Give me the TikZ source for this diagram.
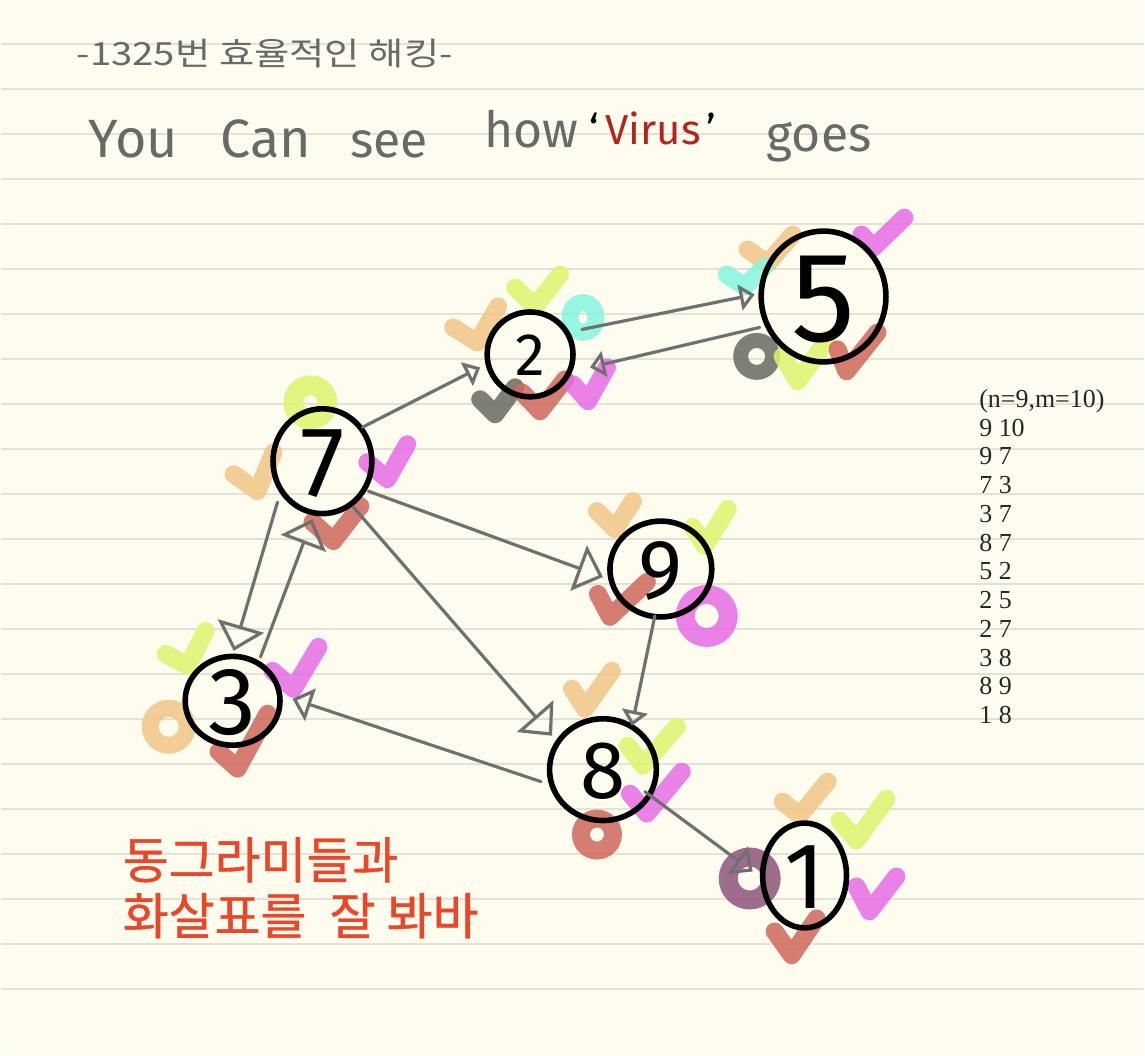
\documentclass[tikz,border=0pt]{standalone}
\usepackage{fontspec}
\usepackage{graphicx}
\usetikzlibrary{arrows.meta,shapes.geometric,calc}
\newfontfamily\kr{Noto Sans CJK KR}
\newfontfamily\krbold{Noto Sans CJK KR}[FakeBold=0.8]
\newfontfamily\hand{Fira Sans}
\newfontfamily\serifnum{Liberation Serif}
\newfontfamily\digitfont{Fira Sans}
\definecolor{paper}{RGB}{254,252,238}
\definecolor{rulec}{RGB}{228,226,214}
\definecolor{ink}{RGB}{105,105,105}
\definecolor{virusred}{RGB}{180,36,30}
\definecolor{notered}{RGB}{232,72,42}
\definecolor{arrgray}{RGB}{112,112,112}
\definecolor{mOr}{RGB}{241,197,134}
\definecolor{mLi}{RGB}{219,246,109}
\definecolor{mCy}{RGB}{132,246,223}
\definecolor{mMa}{RGB}{230,108,229}
\definecolor{mRe}{RGB}{208,103,93}
\definecolor{mGr}{RGB}{106,106,99}
\definecolor{mPu}{RGB}{143,85,123}
\pgfdeclarelayer{bg}
\pgfdeclarelayer{marks}
\pgfsetlayers{bg,marks,main}
\newcommand{\cdig}[1]{\smash{\raisebox{-0.35em}{#1}}}
\begin{document}
\begin{tikzpicture}[x=0.5pt,y=-0.5pt,
  num/.style={ellipse, draw=black, line width=2.8pt, inner sep=0pt, outer sep=0pt},
  edge/.style={draw=arrgray, line width=1.6pt, line cap=round, line join=round},
  tipS/.style={-{Triangle[open,length=7.5pt,width=13pt]}},
  tipM/.style={-{Triangle[open,length=9.5pt,width=17pt]}},
  tipL/.style={-{Triangle[open,length=13pt,width=24pt]}},
  chk/.style={draw=#1, line width=9pt, line cap=round, line join=round, opacity=0.85},
  ring/.style={draw=#1, opacity=0.85},
  txt/.style={anchor=base west, inner sep=0pt, outer sep=0pt},
  hw/.style={txt, text=ink, font=\hand\fontsize{25pt}{25pt}\selectfont},
  krnote/.style={txt, text=notered, font=\krbold\fontsize{25pt}{25pt}\selectfont},
  data/.style={txt, text=black!85, font=\serifnum\fontsize{13pt}{14pt}\selectfont}
]
\begin{pgfonlayer}{bg}
  \fill[paper] (0,0) rectangle (1145,1057);
  \foreach \k in {0,...,21}
    \draw[rulec, line width=1pt] (0,44+45.1*\k) -- (1145,44+45.1*\k);
\end{pgfonlayer}
\useasboundingbox (0,0) rectangle (1145,1057);

% texts
\node[txt, text=ink, font=\kr\fontsize{16pt}{16pt}\selectfont] (title) at (76,66) {\scalebox{1.2}[1]{-1325번 효율적인 해킹-}};
\node[hw, font=\hand\fontsize{27pt}{27pt}\selectfont] (you) at (88,158) {You};
\node[hw, font=\hand\fontsize{27pt}{27pt}\selectfont] (can) at (220,158) {Can};
\node[hw] (see) at (350,158) {see};
\node[hw] (how) at (484,148) {how};
\node[txt, font=\hand\fontsize{21pt}{21pt}\selectfont] (virus) at (590,145) {\textcolor{black}{‘}\hspace{3pt}\textcolor{virusred}{Virus}\hspace{3pt}\textcolor{black}{’}};
\node[hw] (goes) at (767,152) {goes};

\node[krnote] (note1) at (122,880) {동그라미들과};
\node[krnote] (note2) at (122,936) {화살표를\hspace{6pt} 잘 봐바};

\foreach \t [count=\i from 0] in {{(n=9,m=10)},9 10,9 7,7 3,3 7,8 7,5 2,2 5,2 7,3 8,8 9,1 8}
  \node[data] (m\i) at (980,408+28.8*\i) {\t};

% nodes
\node[num, minimum width=43pt, minimum height=42.5pt, font=\digitfont\fontsize{30pt}{30pt}\selectfont] (n2) at (530,355) {\cdig{2}};
\node[num, minimum width=62.5pt, minimum height=65.5pt, font=\digitfont\fontsize{64pt}{64pt}\selectfont] (n5) at (824,297) {\cdig{5}};
\node[num, minimum width=49.5pt, minimum height=52.5pt, font=\digitfont\fontsize{50pt}{50pt}\selectfont] (n7) at (322,462) {\cdig{7}};
\node[num, minimum width=47.5pt, minimum height=44.5pt, font=\digitfont\fontsize{48pt}{48pt}\selectfont] (n3) at (232,702) {\cdig{3}};
\node[num, minimum width=51pt, minimum height=48pt, font=\digitfont\fontsize{42pt}{42pt}\selectfont] (n9) at (661,570) {\cdig{9}};
\node[num, minimum width=53.5pt, minimum height=51pt, font=\digitfont\fontsize{41pt}{41pt}\selectfont] (n8) at (603,771) {\cdig{8}};
\node[num, minimum width=42pt, minimum height=52.5pt, font=\digitfont\fontsize{47pt}{47pt}\selectfont] (n1) at (805,877) {\cdig{1}};

% connectors
\draw[edge, tipS] ($(n7.center)+(40,-34)$) -- ($(n2.center)+(-50,13)$);
\draw[edge, tipS] ($(n2.center)+(52,-25)$) -- ($(n5.center)+(-69,-2)$);
\draw[edge, tipS] ($(n5.center)+(-64,31)$) -- ($(n2.center)+(60,13)$);
\draw[edge, tipL] ($(n7.center)+(46,30)$) -- ($(n9.center)+(-58,8)$);
\draw[edge, tipL] ($(n7.center)+(-45,41)$) -- ($(n3.center)+(1,-50)$);
\draw[edge, tipL] ($(n3.center)+(28,-44)$) -- ($(n7.center)+(-10,58)$);
\draw[edge, tipL] ($(n7.center)+(31,46)$) -- ($(n8.center)+(-51,-34)$);
\draw[edge, tipM] ($(n8.center)+(-62,12)$) -- ($(n3.center)+(60,-2)$);
\draw[edge, tipS] ($(n9.center)+(-6,47)$) -- ($(n8.center)+(29,-44)$);
\draw[edge, tipM] ($(n8.center)+(42,22)$) -- ($(n1.center)+(-52,-4)$);

% marks
\begin{pgfonlayer}{marks}
  % around 2
  \draw[chk=mOr] (453,328) -- (477,343) -- (498,307);
  \draw[chk=mLi] (515,288) -- (535,307) -- (560,275);
  \draw[ring=mCy, line width=8.5pt] (583,318) ellipse [x radius=6.5pt, y radius=7.5pt];
  \draw[chk=mGr] (480,400) -- (495,415) -- (515,388);
  \draw[chk=mRe] (522,393) -- (540,412) -- (565,380);
  \draw[chk=mMa] (573,385) -- (588,402) -- (607,368);
  % around 5
  \draw[chk=mOr] (748,250) -- (768,264) -- (793,235);
  \draw[chk=mCy] (727,275) -- (745,287) -- (765,267);
  \draw[chk=mMa] (862,235) -- (874,248) -- (905,218);
  \draw[ring=mGr, line width=7.5pt] (757,357) circle [radius=8pt];
  \draw[chk=mLi] (783,357) -- (798,382) -- (828,340);
  \draw[chk=mRe] (838,350) -- (847,372) -- (878,333);
  % around 7
  \draw[ring=mLi, line width=10pt] (310,403) circle [radius=8.5pt];
  \draw[chk=mOr] (233,475) -- (257,492) -- (273,453);
  \draw[chk=mMa] (367,463) -- (387,480) -- (407,445);
  \draw[chk=mRe] (312,523) -- (333,542) -- (360,507);
  % around 3
  \draw[chk=mLi] (165,655) -- (187,667) -- (205,632);
  \draw[chk=mMa] (272,672) -- (293,690) -- (318,648);
  \draw[ring=mOr, line width=8.5pt] (168,728) circle [radius=9.25pt];
  \draw[chk=mRe] (218,753) -- (237,770) -- (267,715);
  % around 9
  \draw[chk=mOr] (597,512) -- (615,530) -- (633,502);
  \draw[chk=mLi] (693,528) -- (705,547) -- (728,510);
  \draw[chk=mRe] (598,595) -- (610,618) -- (647,583);
  \draw[ring=mMa, line width=9.5pt] (707,617) circle [radius=10.75pt];
  % around 8
  \draw[chk=mOr] (572,690) -- (585,710) -- (612,672);
  \draw[chk=mLi] (628,747) -- (643,767) -- (677,728);
  \draw[chk=mMa] (630,795) -- (647,815) -- (682,773);
  \draw[ring=mRe, line width=9pt] (597,836) circle [radius=8pt];
  % around 1
  \draw[chk=mOr] (783,803) -- (800,817) -- (828,783);
  \draw[chk=mLi] (840,822) -- (857,842) -- (887,800);
  \draw[chk=mMa] (857,888) -- (870,913) -- (897,878);
  \draw[chk=mRe] (775,933) -- (792,957) -- (817,920);
  \draw[ring=mPu, line width=9.5pt] (750,880) circle [radius=10.75pt];
\end{pgfonlayer}
\end{tikzpicture}
\end{document}
